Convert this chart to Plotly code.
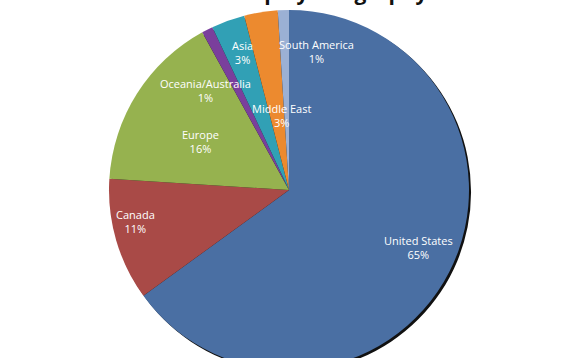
import plotly.graph_objects as go

regions = ["United States", "Canada", "Europe", "Oceania/Australia", "Asia", "Middle East", "South America"]
shares = [65, 11, 16, 1, 3, 3, 1]
colors = ["#4a6fa3", "#a94a47", "#96b24f", "#7a3f9c", "#31a0b5", "#ec8a2f", "#9bb0d4"]
title_text = "IEA Membership by Geography"

W, H = 580, 372
# label centres (pixels) for Excel-style best-fit label placement
label_px = [(418, 247), (135, 221), (200, 141), (205, 90), (242, 53), (281, 116), (316, 52)]

cx, cy, r = 289, 190, 180
dom_x = [(cx - r) / W, (cx + r) / W]
dom_y = [max(0, (H - (cy + r)) / H), min(1, (H - (cy - r)) / H)]
sh = 2
dom_xs = [(cx - r + sh) / W, (cx + r + sh) / W]
dom_ys = [max(0, (H - (cy + r + sh)) / H), min(1, (H - (cy - r + sh)) / H)]

fig = go.Figure()
# drop shadow
fig.add_trace(go.Pie(
    values=[sum(shares)], labels=["shadow"], marker=dict(colors=["#111111"], line=dict(width=0)),
    domain=dict(x=dom_xs, y=dom_ys), textinfo="none", hoverinfo="skip", sort=False, showlegend=False,
))
fig.add_trace(go.Pie(
    labels=regions, values=shares, sort=False, direction="clockwise", rotation=0,
    marker=dict(colors=colors, line=dict(width=0)),
    textinfo="none", domain=dict(x=dom_x, y=dom_y), showlegend=False,
))

for name, val, (px, py) in zip(regions, shares, label_px):
    fig.add_annotation(
        x=px / W, y=1 - py / H, xref="paper", yref="paper",
        text=f"{name}<br>{val}%", showarrow=False,
        font=dict(family="Open Sans", size=11, color="white"),
        xanchor="center", yanchor="middle", align="center",
    )

fig.add_annotation(
    x=267 / W, y=1 - 7 / H, xref="paper", yref="paper",
    text=f"<b>{title_text}</b>", showarrow=False,
    font=dict(family="Open Sans", size=21, color="#111111"),
    xanchor="center", yanchor="bottom", borderpad=0,
)

fig.update_layout(
    width=W, height=H, margin=dict(l=0, r=0, t=0, b=0),
    paper_bgcolor="white", plot_bgcolor="white",
)
fig.write_html(
    "out.html",
    config={"displayModeBar": False},
    post_script="document.body.style.margin='0';document.body.style.overflow='hidden';",
)
